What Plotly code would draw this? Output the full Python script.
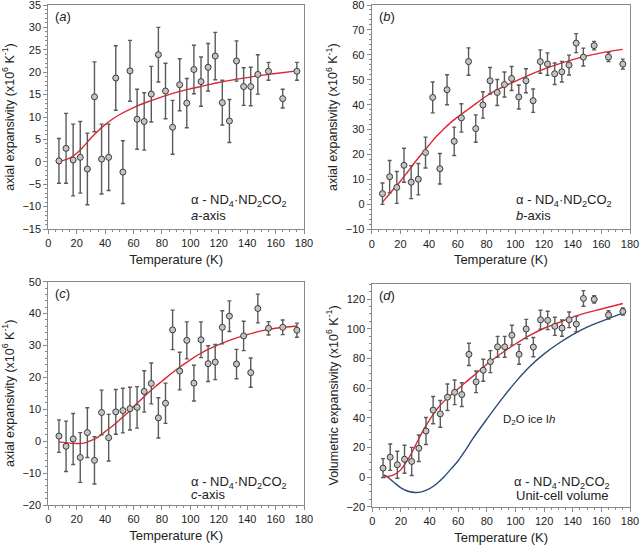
import plotly.graph_objects as go

# ---------------- data ----------------
T_obs = [7.5, 12.5, 17.5, 22.5, 27.5, 32.5, 37.5, 42.5, 47.5, 52.5, 57.5, 62.5, 67.5, 72.5, 77.5,
         82.5, 87.5, 92.5, 97.5, 102.5, 107.5, 112.5, 117.5, 122.5, 127.5, 132.5, 137.5, 142.5,
         147.5, 155, 165, 175]

a_val = [0.2, 3.0, 0.4, 1.0, -1.6, 14.5, 0.6, 1.0, 18.7, -2.3, 20.3, 9.5, 9.0, 15.1, 23.9, 15.8,
         7.7, 17.2, 13.1, 20.6, 17.9, 21.1, 23.6, 13.2, 9.1, 22.5, 16.8, 16.8, 19.5, 20.2, 14.1, 20.2]
a_err = [5.0, 7.8, 8.0, 8.0, 8.0, 7.8, 7.8, 7.4, 7.2, 7.0, 6.8, 6.7, 6.4, 6.2, 6.1, 6.2, 6.0, 5.8,
         5.5, 5.4, 5.5, 5.3, 5.3, 5.0, 4.8, 4.5, 4.2, 4.3, 4.4, 2.0, 2.1, 2.0]

b_val = [4.3, 11.1, 6.8, 15.7, 8.9, 10.1, 20.8, 42.9, 14.3, 46.0, 25.3, 34.7, 57.3, 30.4, 39.9, 49.6,
         44.9, 48.1, 50.5, 43.1, 49.6, 41.6, 57.3, 56.3, 52.4, 53.2, 55.9, 64.7, 59.1, 63.7, 59.1, 56.3]
b_err = [4.3, 6.5, 6.4, 6.8, 6.6, 6.3, 6.2, 6.2, 6.1, 6.0, 5.7, 5.7, 5.5, 5.5, 5.3, 5.3, 5.2, 5.0,
         4.8, 4.8, 4.8, 4.7, 4.7, 4.5, 4.3, 4.1, 4.0, 3.8, 3.6, 1.7, 1.8, 2.0]

c_val = [1.6, -1.6, 0.7, -5.1, 2.7, -6.0, 9.0, 1.1, 9.2, 9.6, 10.2, 10.6, 15.6, 18.1, 7.3, 11.9,
         34.9, 22.0, 31.6, 18.2, 31.8, 24.3, 24.8, 35.7, 39.2, 24.2, 33.0, 21.5, 41.6, 35.4, 35.7, 34.8]
c_err = [5.1, 7.9, 8.0, 7.8, 7.8, 7.4, 7.0, 7.3, 7.0, 7.0, 6.7, 6.5, 6.5, 6.4, 6.3, 6.3, 6.2, 5.9,
         5.8, 5.6, 5.6, 5.6, 5.5, 5.2, 4.8, 4.6, 4.6, 4.6, 4.5, 2.1, 2.3, 2.2]

v_val = [6.0, 13.4, 8.3, 12.0, 10.5, 19.4, 31.0, 45.1, 42.6, 53.8, 57.1, 55.6, 82.7, 64.2, 72.0, 77.8,
         87.8, 87.8, 95.6, 82.7, 99.8, 87.6, 106.0, 105.6, 101.6, 100.4, 106.0, 103.1, 120.4, 119.8,
         109.3, 111.6]
v_err = [6.4, 8.9, 9.1, 9.4, 9.5, 8.9, 9.1, 9.2, 9.0, 8.9, 8.3, 8.0, 7.5, 7.3, 7.4, 7.4, 7.0, 7.0,
         6.7, 6.7, 6.5, 6.5, 6.4, 6.2, 6.1, 5.5, 5.3, 5.2, 5.3, 2.5, 2.8, 2.4]

# fitted curves
T_fit_a = [7.5, 10, 15, 20, 25, 30, 35, 40, 45, 50, 60, 70, 80, 90, 100, 110, 120, 130, 140, 150, 160, 175]
a_fit = [0.1, 0.25, 0.8, 1.9, 3.5, 5.3, 6.9, 8.3, 9.5, 10.5, 12.1, 13.4, 14.5, 15.5, 16.3, 17.0, 17.7,
         18.3, 18.8, 19.3, 19.7, 20.3]

T_fit_b = [7.5, 10, 15, 20, 25, 30, 35, 40, 45, 50, 55, 60, 65, 70, 80, 90, 100, 110, 120, 130, 140, 150, 160, 175]
b_fit = [0.8, 2.6, 6.0, 9.3, 13.0, 16.8, 20.4, 23.8, 27.2, 30.1, 32.8, 35.1, 37.2, 39.3, 43.5, 46.7,
         49.4, 52.0, 54.3, 56.3, 58.1, 59.6, 60.8, 62.2]

T_fit_c = [7.5, 15, 20, 25, 30, 35, 40, 45, 50, 55, 60, 65, 70, 75, 80, 90, 100, 110, 120, 130, 140, 150, 160, 175]
c_fit = [-0.2, -0.6, -0.7, -0.6, 0.2, 1.3, 3.0, 4.7, 6.6, 8.6, 10.8, 12.9, 15.0, 17.0, 18.8, 22.4,
         25.5, 28.2, 30.3, 32.0, 33.4, 34.6, 35.4, 36.1]

T_fit_v = [7.5, 10, 15, 20, 25, 30, 35, 40, 45, 50, 55, 60, 65, 70, 80, 90, 100, 110, 120, 130, 140, 150, 160, 175]
v_fit = [0.0, 0.2, 1.5, 5.0, 12.0, 21.0, 30.5, 38.5, 45.5, 51.0, 55.5, 59.5, 63.7, 67.7, 76.0, 83.3,
         89.7, 95.5, 100.3, 104.0, 107.8, 110.8, 113.3, 117.0]

T_ice = [8, 10, 15, 20, 25, 30, 35, 40, 45, 50, 55, 60, 65, 70, 80, 90, 100, 110, 120, 130, 140, 150, 160, 175]
ice_fit = [1.5, 0.5, -3.5, -7.3, -9.6, -10.4, -9.8, -7.8, -4.5, 0.0, 5.5, 11.0, 18.0, 25.5, 39.0, 52.0,
           64.0, 74.5, 83.0, 90.0, 96.0, 101.0, 105.0, 110.5]

# ---------------- style ----------------
FONT = "Liberation Sans, Arial, sans-serif"
RED = "#e0252f"
BLUE = "#2c4a78"
AXC = "#8a8a8a"

fig = go.Figure()

panels = [
    dict(n="", val=a_val, err=a_err, Tf=T_fit_a, fit=a_fit, xd=[48.3, 304], yd=[5, 229], yr=[-15, 35], dt=5),
    dict(n="2", val=b_val, err=b_err, Tf=T_fit_b, fit=b_fit, xd=[371.7, 630], yd=[5, 229.3], yr=[-10, 80], dt=10),
    dict(n="3", val=c_val, err=c_err, Tf=T_fit_c, fit=c_fit, xd=[48.3, 304], yd=[281.7, 505], yr=[-20, 50], dt=10),
    dict(n="4", val=v_val, err=v_err, Tf=T_fit_v, fit=v_fit, xd=[372.3, 630], yd=[284.2, 506.7], yr=[-20, 130], dt=20),
]

W, H = 640, 545

for i, p in enumerate(panels):
    xa = "x" + p["n"]
    ya = "y" + p["n"]
    if i == 3:
        fig.add_trace(go.Scatter(x=T_ice, y=ice_fit, mode="lines", line=dict(color=BLUE, width=1.4, shape="spline"),
                                 xaxis=xa, yaxis=ya, hoverinfo="skip"))
    fig.add_trace(go.Scatter(x=p["Tf"], y=p["fit"], mode="lines", line=dict(color=RED, width=1.4, shape="spline"),
                             xaxis=xa, yaxis=ya, hoverinfo="skip"))
    fig.add_trace(go.Scatter(
        x=T_obs, y=p["val"], mode="markers", xaxis=xa, yaxis=ya,
        marker=dict(symbol="circle", size=6, color="#c4c4c4", line=dict(color="#3a3a3a", width=1)),
        error_y=dict(type="data", array=p["err"], visible=True, color="#5a5a5a", thickness=1.4, width=2),
    ))

    xdom = [p["xd"][0] / W, p["xd"][1] / W]
    ydom = [1 - p["yd"][1] / H, 1 - p["yd"][0] / H]
    common = dict(showgrid=False, zeroline=False, showline=True, linecolor=AXC, linewidth=1, mirror=True,
                  automargin=False, ticklabeloverflow="allow",
                  ticks="outside", ticklen=4, tickcolor=AXC, tickfont=dict(family=FONT, size=11, color="#222"))
    xk = "xaxis" + p["n"]
    yk = "yaxis" + p["n"]
    fig.layout[xk] = dict(domain=xdom, range=[0, 180], dtick=20, anchor=ya,
                          minor=dict(dtick=5, ticklen=2, ticks="outside", tickcolor=AXC),
                          title=dict(text="Temperature (K)", font=dict(family=FONT, size=13, color="#222"), standoff=6),
                          **common)
    ytitle = ("Volumetric expansivity (x10<sup>6</sup> K<sup>-1</sup>)" if i == 3
              else "axial expansivity (x10<sup>6</sup> K<sup>-1</sup>)")
    fig.layout[yk] = dict(domain=ydom, range=p["yr"], dtick=p["dt"], anchor=xa,
                          minor=dict(nticks=5, ticklen=2, ticks="outside", tickcolor=AXC),
                          title=dict(text=ytitle, font=dict(family=FONT, size=12.5, color="#222"), standoff=5),
                          **common)

# annotations
letters = ["a", "b", "c", "d"]
ann = []
for i, p in enumerate(panels):
    xr = ("x" + p["n"] + " domain") if p["n"] else "x domain"
    yr = ("y" + p["n"] + " domain") if p["n"] else "y domain"
    ann.append(dict(text="(<i>%s</i>)" % letters[i], xref=xr, yref=yr, x=0.02, y=0.99, xanchor="left",
                    yanchor="top", showarrow=False, font=dict(family=FONT, size=13, color="#222")))

formula = "α - ND<sub>4</sub>·ND<sub>2</sub>CO<sub>2</sub>"
sub_lab = ["<i>a</i>-axis", "<i>b</i>-axis", "<i>c</i>-axis"]
line_y = [(0.127, 0.062), (0.127, 0.062), (0.102, 0.045)]
for i in range(3):
    p = panels[i]
    xr = ("x" + p["n"] + " domain") if p["n"] else "x domain"
    yr = ("y" + p["n"] + " domain") if p["n"] else "y domain"
    ann.append(dict(text=formula, xref=xr, yref=yr, x=0.55, y=line_y[i][0], xanchor="left", yanchor="middle",
                    showarrow=False, font=dict(family=FONT, size=13, color="#222")))
    ann.append(dict(text=sub_lab[i], xref=xr, yref=yr, x=0.55, y=line_y[i][1], xanchor="left", yanchor="middle",
                    showarrow=False, font=dict(family=FONT, size=13, color="#222")))

ann.append(dict(text=formula, xref="x4 domain", yref="y4 domain", x=0.738, y=0.11, xanchor="center",
                yanchor="middle", showarrow=False, font=dict(family=FONT, size=13, color="#222")))
ann.append(dict(text="Unit-cell volume", xref="x4 domain", yref="y4 domain", x=0.738, y=0.05, xanchor="center",
                yanchor="middle", showarrow=False, font=dict(family=FONT, size=13, color="#222")))
ann.append(dict(text="D<sub>2</sub>O ice I<i>h</i>", xref="x4 domain", yref="y4 domain", x=0.5, y=0.39,
                xanchor="left", yanchor="middle", showarrow=False, font=dict(family=FONT, size=11.5, color="#222")))

fig.update_layout(width=W, height=H, margin=dict(l=0, r=0, t=0, b=0), paper_bgcolor="white",
                  plot_bgcolor="white", showlegend=False, annotations=ann, font=dict(family=FONT))

fig.write_html("out.html", config=dict(displayModeBar=False),
               post_script="document.body.style.margin='0px';document.body.style.overflow='hidden';")
